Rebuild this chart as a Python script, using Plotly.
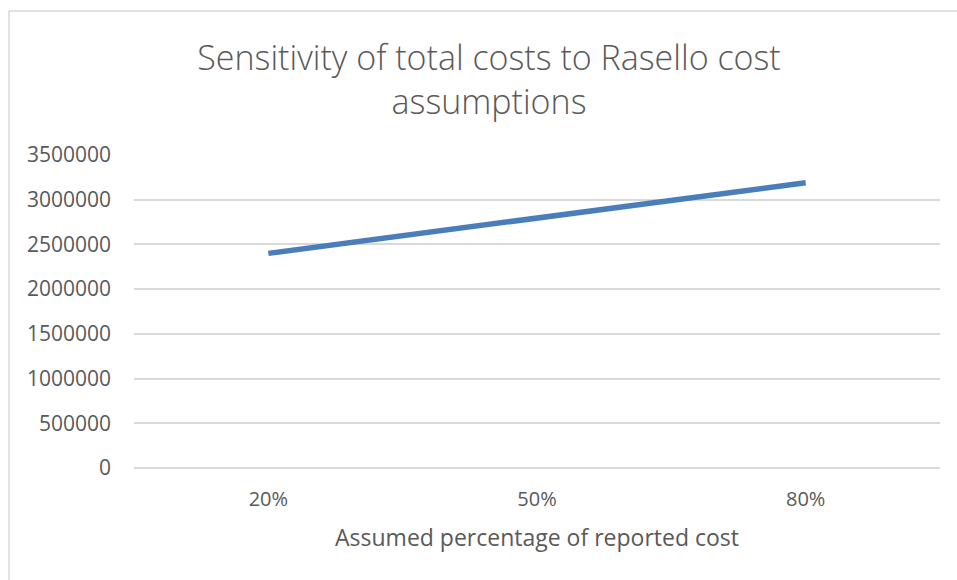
import plotly.graph_objects as go

# Share of reported Rasello cost assumed, and resulting total cost
categories = ["20%", "50%", "80%"]
total_costs = [2400000, 2795000, 3190000]
y_ticks = [0, 500000, 1000000, 1500000, 2000000, 2500000, 3000000, 3500000]

W, H = 957, 580
L, R, T, B = 134, 17, 155, 112
plot_w = W - L - R
plot_h = H - T - B

fig = go.Figure()
fig.add_trace(go.Scatter(
    x=categories,
    y=total_costs,
    mode="lines",
    line=dict(color="#4a7ebb", width=5.5),
    hoverinfo="x+y",
    showlegend=False,
))

text_color = "#595959"
grid_color = "#d9d9d9"
font_family = "Open Sans, Liberation Sans, sans-serif"

fig.update_layout(
    width=W,
    height=H,
    margin=dict(l=L, r=R, t=T, b=B),
    paper_bgcolor="white",
    plot_bgcolor="white",
    font=dict(family=font_family, color=text_color),
    title=dict(
        text="Sensitivity of total costs to Rasello cost<br>assumptions",
        x=489 / W,
        xanchor="center",
        y=1 - 70 / H,
        yanchor="middle",
        font=dict(size=34, color=text_color, family=font_family, weight=300),
    ),
    xaxis=dict(
        type="category",
        range=[-0.5, 2.5],
        showgrid=False,
        showline=False,
        zeroline=False,
        ticks="",
        tickfont=dict(size=20, color=text_color),
        ticklabelstandoff=17,
        title=dict(text="Assumed percentage of reported cost",
                   font=dict(size=23, color=text_color), standoff=18),
    ),
    yaxis=dict(
        range=[0, 3500000],
        tickvals=y_ticks,
        ticktext=[str(v) for v in y_ticks],
        showgrid=True,
        gridcolor=grid_color,
        gridwidth=1.5,
        zeroline=True,
        zerolinecolor=grid_color,
        zerolinewidth=1.5,
        showline=False,
        ticks="",
        tickfont=dict(size=21, color=text_color),
        ticklabelstandoff=22,
    ),
)

# Chart-area frame (left and top edges visible)
x_left = (9 - L) / plot_w
y_top = (H - B - 11) / plot_h
fig.add_shape(type="line", xref="paper", yref="paper",
              x0=x_left, x1=x_left, y0=y_top, y1=-B / plot_h - 0.01,
              line=dict(color=grid_color, width=1.5))
fig.add_shape(type="line", xref="paper", yref="paper",
              x0=x_left, x1=(W - L) / plot_w + 0.01, y0=y_top, y1=y_top,
              line=dict(color=grid_color, width=1.5))

fig.write_html("out.html")
